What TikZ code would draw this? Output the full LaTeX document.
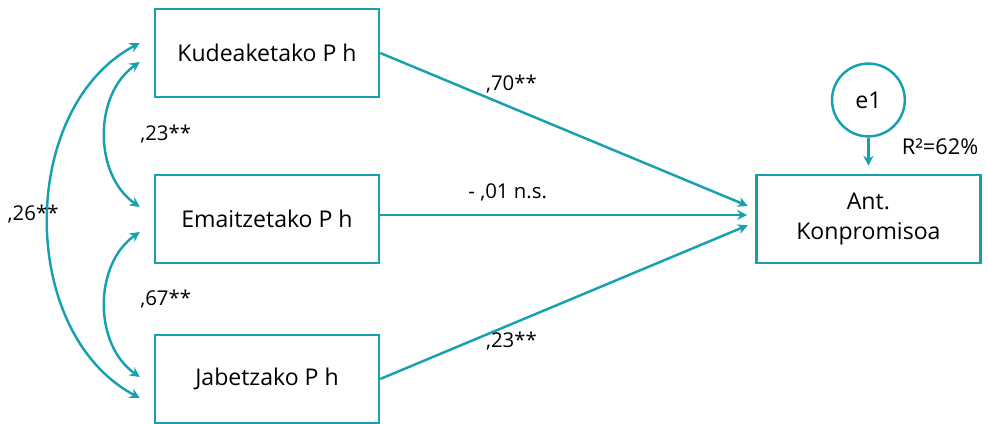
\documentclass[tikz,border=0pt]{standalone}
\usepackage{fontspec}
\setmainfont{Open Sans}
\usetikzlibrary{arrows.meta}
\definecolor{tealline}{HTML}{17A1AF}

\begin{document}
\begin{tikzpicture}[line width=1.75pt, font=\fontsize{16.4}{21}\selectfont]
\tikzstyle{var} = [rectangle, draw=tealline, minimum width=5.6cm, minimum height=2.2cm, inner sep=0, align=center]
\tikzstyle{err} = [circle, draw=tealline, minimum size=1.82cm, inner sep=0]
\tikzstyle{reg} = [draw=tealline, -{Stealth[length=0.25cm,width=0.25cm]}, shorten >=0.2cm]
\tikzstyle{cov} = [draw=tealline, {Stealth[length=0.25cm,width=0.25cm]}-{Stealth[length=0.25cm,width=0.25cm]}]
\tikzstyle{coef} = [font=\fontsize{14.5}{17}\selectfont, inner sep=0]

\useasboundingbox (0,0) rectangle (24.7,10.6);

\node[var] (kud) at (6.675,9.275) {Kudeaketako P h};
\node[var] (ema) at (6.675,5.125) {Emaitzetako P h};
\node[var] (jab) at (6.675,1.125) {Jabetzako P h};
\node[var] (ant) at (21.71,5.125) {Ant.\\Konpromisoa};
\node[err] (e1) at (21.71,8.1) {e1};
\node[coef, font=\fontsize{15.5}{18}\selectfont] (r2) at (23.5,6.925) {R²=62\%};

% regressions
\draw[reg] (kud.east) to node[coef, pos=0.35, yshift=0.6cm] (b1) {,70**} ([yshift=0.25cm]ant.west);
\draw[reg] ([yshift=0.1cm]ema.east) to node[coef, pos=0.34, yshift=0.57cm] (b2) {- ,01 n.s.} ([yshift=0.1cm]ant.west);
\draw[reg] (jab.east) to node[coef, pos=0.35, yshift=-0.43cm] (b3) {,23**} ([yshift=-0.08cm]ant.west);
\draw[reg] (e1) -- (ant);

% covariances
\draw[cov] ([xshift=-0.35cm,yshift=-0.225cm]kud.west) to[bend right=55] node[coef, right=0.85cm] (r12) {,23**} ([xshift=-0.35cm,yshift=0.3cm]ema.west);
\draw[cov] ([xshift=-0.35cm,yshift=-0.325cm]ema.west) to[bend right=55] node[coef, right=0.85cm, yshift=0.14cm] (r23) {,67**} ([xshift=-0.35cm,yshift=0.05cm]jab.west);
\draw[cov] ([xshift=-0.35cm,yshift=0.25cm]kud.west) to[bend right=62] node[coef, xshift=-0.375cm, yshift=0.16cm] (r13) {,26**} ([xshift=-0.35cm,yshift=-0.475cm]jab.west);
\end{tikzpicture}
\end{document}
